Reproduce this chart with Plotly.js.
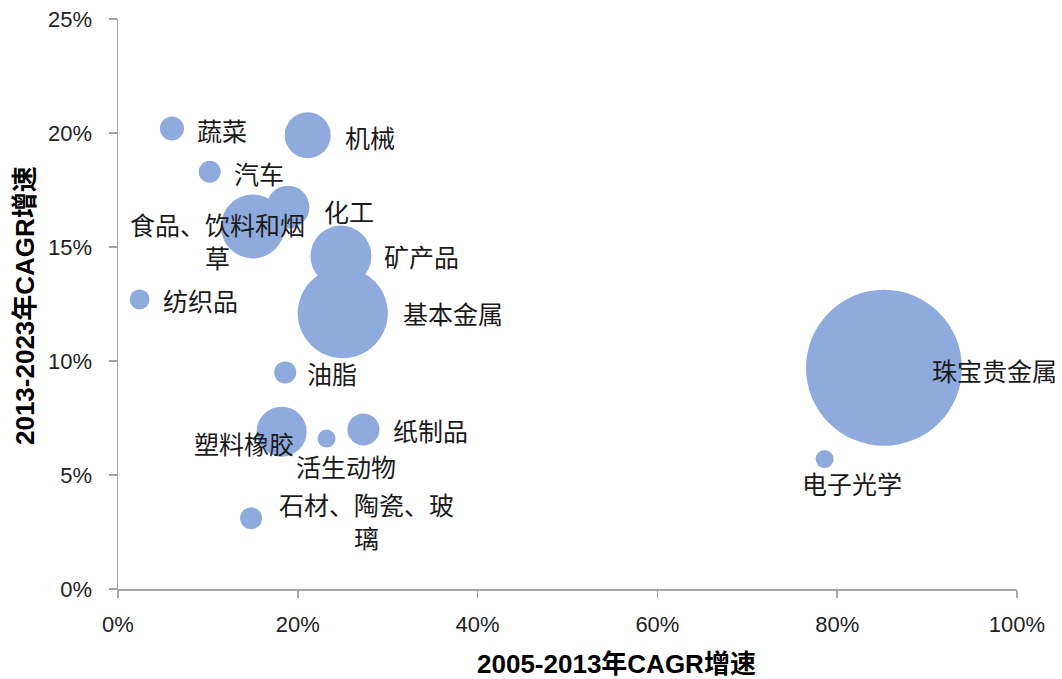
<!DOCTYPE html>
<html>
<head>
<meta charset="utf-8">
<script src="https://cdn.plot.ly/plotly-3.0.1.min.js"></script>
<style>html,body{margin:0;padding:0;background:#fff;}#chart{width:1062px;height:679px;}</style>
</head>
<body>
<div id="chart"></div>
<script>
// Data (percent)
var categories = ["蔬菜","机械","汽车","化工","食品、饮料和烟<br>草","矿产品","纺织品","基本金属","油脂","塑料橡胶","活生动物","纸制品","石材、陶瓷、玻<br>璃","电子光学","珠宝贵金属"];
var cagr0513 = [6.0, 21.1, 10.2, 18.9, 15.0, 24.8, 2.4, 25.0, 18.6, 18.2, 23.2, 27.3, 14.8, 78.6, 85.2];
var cagr1323 = [20.2, 19.9, 18.3, 16.75, 15.9, 14.6, 12.7, 12.1, 9.5, 6.9, 6.6, 7.0, 3.1, 5.7, 9.7];
var bubbleSize = [1.44, 5.3, 1.21, 4.6, 10.2, 9.3, 1.0, 20.3, 1.21, 6.25, 0.81, 2.56, 1.21, 0.81, 60.8];
var xTickVals = [0, 20, 40, 60, 80, 100];
var yTickVals = [0, 5, 10, 15, 20, 25];

// Label offsets in pixels (dx right, dy down), style only
var labelDx = [50, 62, 49, 61, -35, 81, 61, 110, 47, -38, 19, 67, 115, 27, 111];
var labelDy = [2, 2, 1, 4, 14, 0, 1, 0, 1, 11, 27, 1, 2, 24, 2];

var cjk = '"Noto Sans CJK SC", "Noto Sans", sans-serif';
var latin = '"Liberation Sans", Arial, "Noto Sans CJK SC", sans-serif';

var trace = {
  type: 'scatter',
  mode: 'markers',
  x: cagr0513,
  y: cagr1323,
  text: categories,
  hoverinfo: 'text',
  marker: {
    size: bubbleSize,
    sizemode: 'area',
    sizeref: 1/200,
    color: '#8faadc',
    opacity: 1,
    line: {width: 0}
  },
  cliponaxis: false
};

var annotations = categories.map(function(c, i) {
  return {
    x: cagr0513[i], y: cagr1323[i], xref: 'x', yref: 'y',
    text: c, showarrow: false, align: 'center',
    xanchor: 'center', yanchor: 'middle',
    xshift: labelDx[i], yshift: -labelDy[i],
    font: {family: cjk, size: 25, color: '#1a1a1a'}
  };
});
annotations.push({
  xref: 'paper', yref: 'paper', x: 0.555, y: -0.1316,
  xanchor: 'center', yanchor: 'middle', showarrow: false,
  text: '<b>2005-2013年CAGR增速</b>',
  font: {family: latin, size: 26, color: '#000'}
});
annotations.push({
  xref: 'paper', yref: 'paper', x: -0.1034, y: 0.4965,
  xanchor: 'center', yanchor: 'middle', showarrow: false, textangle: -90,
  text: '<b>2013-2023年CAGR增速</b>',
  font: {family: latin, size: 26, color: '#000'}
});

var layout = {
  width: 1062, height: 679,
  margin: {l: 118, r: 45, t: 19, b: 90},
  paper_bgcolor: '#fff', plot_bgcolor: '#fff',
  showlegend: false,
  xaxis: {
    range: [0, 100], tickvals: xTickVals, ticktext: xTickVals.map(function(v){return v + '%';}),
    showgrid: false, zeroline: false, showline: true, linecolor: '#a6a6a6', linewidth: 1.5,
    ticks: 'outside', ticklen: 7, tickcolor: '#a6a6a6', tickwidth: 1.5,
    tickfont: {family: latin, size: 22, color: '#222'}, ticklabelstandoff: 8
  },
  yaxis: {
    range: [0, 25], tickvals: yTickVals, ticktext: yTickVals.map(function(v){return v + '%';}),
    showgrid: false, zeroline: false, showline: true, linecolor: '#a6a6a6', linewidth: 1.5,
    ticks: 'outside', ticklen: 8, tickcolor: '#a6a6a6', tickwidth: 1.5,
    tickfont: {family: latin, size: 22, color: '#222'}, ticklabelstandoff: 12
  },
  annotations: annotations
};

Plotly.newPlot('chart', [trace], layout, {displayModeBar: false, staticPlot: true});
</script>
</body>
</html>
